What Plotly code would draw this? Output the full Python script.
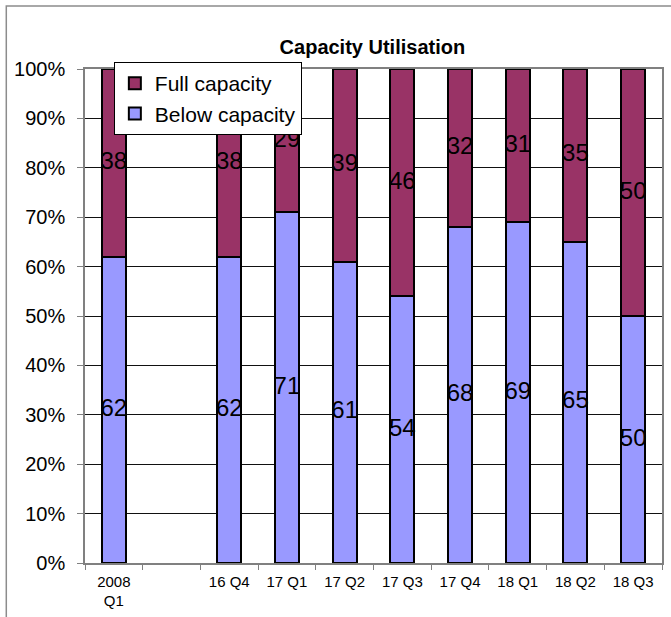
import plotly.graph_objects as go

# Quarters (blank slot separates 2008 from the recent series)
categories = ["2008<br>Q1", " ", "16 Q4", "17 Q1", "17 Q2", "17 Q3", "17 Q4", "18 Q1", "18 Q2", "18 Q3"]
below_capacity = [62, None, 62, 71, 61, 54, 68, 69, 65, 50]
full_capacity = [38, None, 38, 29, 39, 46, 32, 31, 35, 50]

FULL_COLOR = "#993366"
BELOW_COLOR = "#9999FF"
FONT = "Liberation Sans, Arial, sans-serif"

fig = go.Figure()

fig.add_trace(go.Bar(
    x=categories, y=below_capacity, name="Below capacity",
    marker=dict(color=BELOW_COLOR, line=dict(color="black", width=2)),
    legendgroup="below", legendrank=2,
))
fig.add_trace(go.Bar(
    x=categories, y=full_capacity, name="Full capacity",
    marker=dict(color=FULL_COLOR, line=dict(color="black", width=2)),
    legendgroup="full", legendrank=1,
))

# Value labels centred in each stacked segment
lab_x, lab_y, lab_t = [], [], []
for c, b, f in zip(categories, below_capacity, full_capacity):
    if b is None:
        continue
    lab_x += [c, c]
    lab_y += [b / 2, b + f / 2]
    lab_t += [str(b), str(f)]

fig.add_trace(go.Scatter(
    x=lab_x, y=lab_y, text=lab_t, mode="text",
    textfont=dict(family=FONT, size=24, color="black"),
    showlegend=False, hoverinfo="skip", cliponaxis=False,
))

# Outer chart frame
fig.add_shape(type="rect", xref="paper", yref="paper",
              x0=-0.1364, x1=1.05, y0=-0.15, y1=1.1275,
              line=dict(color="#8c8c8c", width=1.5), fillcolor="rgba(0,0,0,0)",
              layer="below")

fig.update_layout(
    width=671, height=617,
    margin=dict(l=85, r=7, t=69, b=54),
    barmode="stack", bargap=0.585,
    paper_bgcolor="white", plot_bgcolor="white",
    font=dict(family=FONT, color="black"),
    title=dict(text="<b>Capacity Utilisation</b>", x=0.555, xanchor="center",
               y=1 - 47 / 617, yanchor="middle",
               font=dict(family=FONT, size=20, color="black")),
    legend=dict(x=0.05, y=1.0142, xanchor="left", yanchor="top",
                bgcolor="white", bordercolor="black", borderwidth=1,
                font=dict(family=FONT, size=21, color="black"),
                traceorder="grouped", tracegroupgap=0,
                itemwidth=30),
    showlegend=True,
)

fig.update_xaxes(
    type="category", categoryorder="array", categoryarray=categories,
    tickson="boundaries", ticks="outside", ticklen=5, tickcolor="#808080",
    showline=True, linecolor="#808080", linewidth=1.5, mirror=True,
    showgrid=False, tickfont=dict(family=FONT, size=15, color="black"),
    ticklabelstandoff=4,
)
fig.update_yaxes(
    range=[0, 100], dtick=10, ticksuffix="%",
    ticks="outside", ticklen=6, tickcolor="#808080",
    showline=True, linecolor="#808080", linewidth=1.5, mirror=True,
    showgrid=True, gridcolor="#111111", gridwidth=1, zeroline=False,
    tickfont=dict(family=FONT, size=20, color="black"),
    ticklabelstandoff=8,
)

fig.write_html("out.html")
